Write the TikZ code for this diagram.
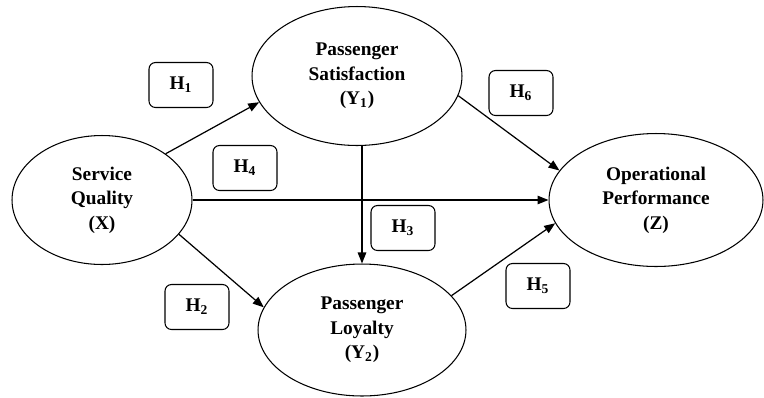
\documentclass[tikz,border=0pt]{standalone}
\usepackage{fontspec}
\setmainfont{Liberation Serif}
\usepackage{tikz}
\usetikzlibrary{shapes,arrows,positioning,calc,arrows.meta}

\begin{document}
\begin{tikzpicture}[
    x=0.02cm, y=-0.02cm,
    >={Triangle[length=2.2mm,width=1.7mm]},
    construct/.style={ellipse, draw, line width=0.6pt, inner sep=0pt, align=center,
        font=\bfseries\fontsize{11}{14}\selectfont},
    hyp/.style={rectangle, draw, rounded corners=1.3mm, line width=0.6pt,
        minimum width=1.28cm, minimum height=0.9cm, font=\bfseries\fontsize{11}{14}\selectfont},
    path/.style={->, line width=0.7pt}
]
    \useasboundingbox (0,0) rectangle (764,397);

    \node[construct, minimum width=3.6cm, minimum height=2.58cm] (SQ) at (102,200) {Service\\Quality\\(X)};
    \node[construct, minimum width=4.2cm, minimum height=2.78cm] (PS) at (357,76) {Passenger\\Satisfaction\\(Y\textsubscript{1})};
    \node[construct, minimum width=4.16cm, minimum height=2.64cm] (PL) at (362,330) {Passenger\\Loyalty\\(Y\textsubscript{2})};
    \node[construct, minimum width=4.28cm, minimum height=2.66cm] (OP) at (656,200) {Operational\\Performance\\(Z)};

    % hypotheses
    \foreach \n/\x/\y in {1/181/85, 2/197/307, 3/403/228, 4/245/168, 5/538/286, 6/521/93} {
        \node[hyp] (H\n) at (\x,\y) {H\textsubscript{\n}};
    }

    \draw[path] (SQ.36) -- (PS.195);
    \draw[path] (SQ) -- (OP);
    \draw[path] (SQ.336) -- (PL.167);
    \draw[path] (PL.north |- PS.south) -- (PL.north);
    \draw[path] (PS.349) -- (OP.163);
    \draw[path] (PL.21) -- (OP.193);

\end{tikzpicture}
\end{document}
